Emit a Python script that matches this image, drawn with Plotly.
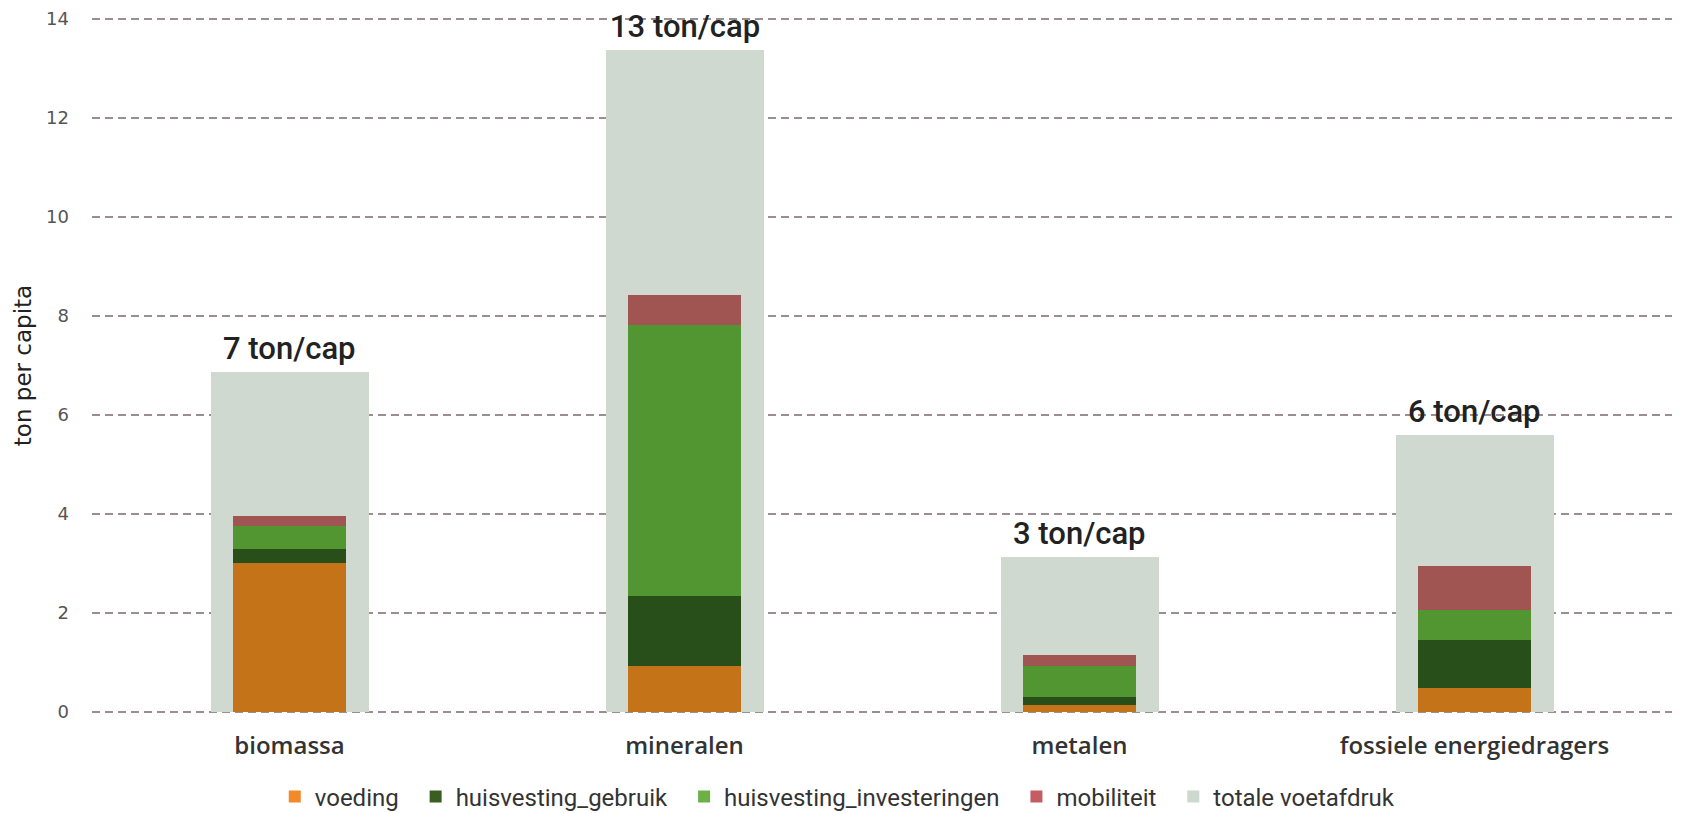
import plotly.graph_objects as go
import numpy as np

categories = ["biomassa", "mineralen", "metalen", "fossiele energiedragers"]
voeding = [3.01, 0.92, 0.15, 0.48]
huisvesting_gebruik = [0.28, 1.43, 0.16, 0.97]
huisvesting_investeringen = [0.46, 5.47, 0.61, 0.61]
mobiliteit = [0.22, 0.60, 0.23, 0.89]
totale_voetafdruk = [6.87, 13.37, 3.13, 5.59]
y_ticks = [0, 2, 4, 6, 8, 10, 12, 14]

series = [
    ("voeding", voeding, "#C47319", "#F28A2A"),
    ("huisvesting_gebruik", huisvesting_gebruik, "#284F1A", "#3A5E20"),
    ("huisvesting_investeringen", huisvesting_investeringen, "#529632", "#6DB045"),
    ("mobiliteit", mobiliteit, "#A05552", "#C45C64"),
]

fig = go.Figure()

fig.add_trace(go.Bar(
    x=categories, y=totale_voetafdruk, width=0.4,
    marker=dict(color="#CFD9D0", line=dict(width=0)),
    name="totale voetafdruk", showlegend=False, hoverinfo="y",
))

base = np.zeros(len(categories))
for name, vals, col, _ in series:
    fig.add_trace(go.Bar(
        x=categories, y=vals, base=base.tolist(), width=0.286,
        marker=dict(color=col, line=dict(width=0)),
        name=name, showlegend=False,
    ))
    base = base + np.array(vals)

# legend entries
legend_items = series + [("totale voetafdruk", None, None, "#CDD8CE")]
for i, (name, _, _, lcol) in enumerate(legend_items):
    pad = "\u00a0\u00a0" if i < len(legend_items) - 1 else ""
    fig.add_trace(go.Bar(
        x=[None], y=[None], name=name + pad,
        marker=dict(color=lcol, line=dict(width=0)), showlegend=True,
    ))

for cat, tot in zip(categories, totale_voetafdruk):
    fig.add_annotation(
        x=cat, y=tot, text=f"{round(tot)} ton/cap", showarrow=False,
        yanchor="bottom", yshift=3,
        font=dict(family="Roboto", size=31, color="#222222", weight=500),
    )

fig.update_layout(
    barmode="overlay",
    width=1673, height=805,
    margin=dict(l=84, r=9, t=8, b=98),
    plot_bgcolor="white", paper_bgcolor="white",
    bargap=0,
    legend=dict(
        orientation="h", x=0.472, xanchor="center",
        yref="container", y=0.02, yanchor="middle",
        font=dict(family="Roboto", size=24, color="#333333"),
        itemsizing="constant", traceorder="normal", itemwidth=30,
    ),
    showlegend=True,
)
fig.update_xaxes(
    showgrid=False, zeroline=False, showline=False, ticks="",
    tickfont=dict(family="Open Sans", size=24, color="#333333", weight=600),
    ticklabelstandoff=14, automargin=False,
    fixedrange=True,
)
fig.update_yaxes(
    range=[-0.06, 14.06], tickvals=y_ticks, showgrid=True,
    gridcolor="#9A8E93", griddash="8px,5px", gridwidth=1.5,
    zeroline=False, showline=False, ticks="",
    tickfont=dict(family="DejaVu Sans", size=18, color="#555555"),
    ticklabelstandoff=22, automargin=False,
    title=dict(text="ton per capita", standoff=8,
               font=dict(family="DejaVu Sans", size=23, color="#222222")),
)
fig.update_traces(cliponaxis=False, selector=dict(type="bar"))

fig.write_html("out.html")
